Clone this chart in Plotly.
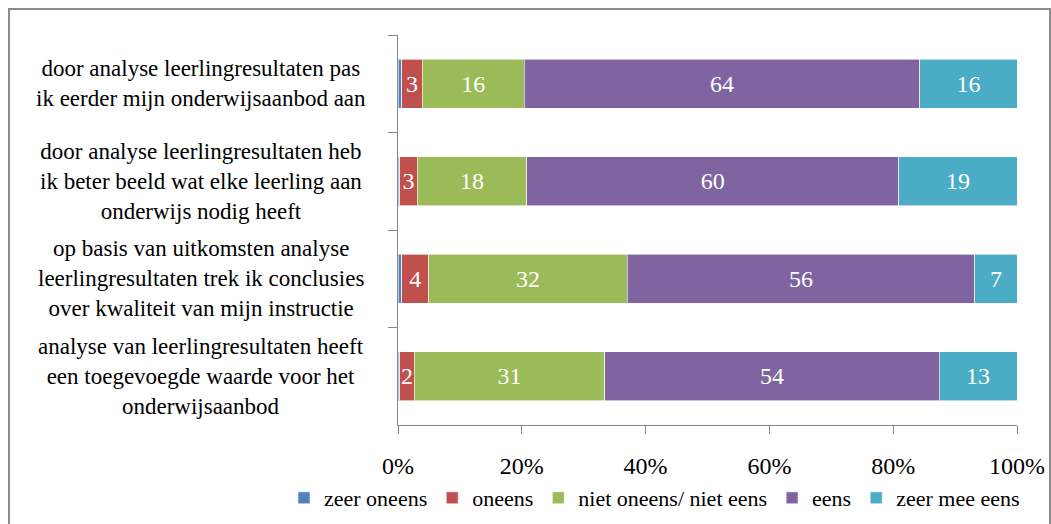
import plotly.graph_objects as go

categories = [
    "door analyse leerlingresultaten pas<br>ik eerder mijn onderwijsaanbod aan",
    "door analyse leerlingresultaten heb<br>ik beter beeld wat elke leerling aan<br>onderwijs nodig heeft",
    "op basis van uitkomsten analyse<br>leerlingresultaten trek ik conclusies<br>over kwaliteit van mijn instructie",
    "analyse van leerlingresultaten heeft<br>een toegevoegde waarde voor het<br>onderwijsaanbod",
]
cat_ids = ["c1", "c2", "c3", "c4"]

series_names = ["zeer oneens", "oneens", "niet oneens/ niet eens", "eens", "zeer mee eens"]
zeer_oneens = [0.6, 0.3, 0.6, 0.3]
oneens = [3.3, 2.8, 4.4, 2.3]
neutraal = [16.5, 17.7, 32.0, 30.8]
eens = [63.9, 60.1, 56.2, 54.0]
zeer_eens = [15.7, 19.1, 6.8, 12.6]
show_label = [False, True, True, True, True]

colors = ["#4F81BD", "#C0504D", "#9BBB59", "#8064A2", "#4BACC6"]
FONT = "Liberation Serif"

fig = go.Figure()
for name, vals, col, lab in zip(series_names, [zeer_oneens, oneens, neutraal, eens, zeer_eens], colors, show_label):
    fig.add_trace(go.Bar(
        y=cat_ids, x=vals, name=name, orientation="h",
        marker=dict(color=col, line=dict(color="rgba(255,255,255,0.6)", width=1)),
        text=[f"{v:.0f}" for v in vals] if lab else None,
        textposition="inside" if lab else "none",
        insidetextanchor="middle",
        textangle=0,
        textfont=dict(color="white", size=24, family=FONT),
        hoverinfo="x+name",
    ))

W, H = 1051, 524
L, R, T, B = 398, 1017, 35, 425
pw, ph = R - L, B - T

def px_x(p):
    return (p - L) / pw

def px_y(p):
    return (B - p) / ph

annotations = []
for cid, txt in zip(cat_ids, categories):
    annotations.append(dict(
        x=px_x(201), xref="paper", y=cid, yref="y",
        text=txt, showarrow=False, xanchor="center", yanchor="middle",
        align="center", font=dict(family=FONT, size=23, color="black"),
    ))

fig.update_layout(
    width=W, height=H,
    margin=dict(l=L, r=W - R, t=T, b=H - B, pad=0, autoexpand=False),
    barmode="stack", bargap=0.5,
    plot_bgcolor="white", paper_bgcolor="white",
    font=dict(family=FONT, size=22, color="black"),
    uniformtext=dict(minsize=24, mode="show"),
    showlegend=True,
    legend=dict(orientation="h", xref="paper", yref="paper",
                x=px_x(284), xanchor="left", y=px_y(498), yanchor="middle",
                font=dict(family=FONT, size=22, color="black"), itemwidth=30,
                traceorder="normal", bgcolor="rgba(0,0,0,0)"),
    annotations=annotations,
    shapes=[dict(type="rect", xref="paper", yref="paper",
                 x0=px_x(9), x1=px_x(1050), y0=px_y(560), y1=px_y(9),
                 line=dict(color="#8c8c8c", width=2), fillcolor="rgba(0,0,0,0)", layer="below")],
)
fig.update_xaxes(
    range=[0, 100], tickvals=[0, 20, 40, 60, 80, 100],
    ticktext=["0%", "20%", "40%", "60%", "80%", "100%"],
    showgrid=False, zeroline=False, showline=True, linecolor="#868686", linewidth=1,
    ticks="outside", ticklen=8, tickcolor="#868686", ticklabelstandoff=11,
    tickfont=dict(family=FONT, size=24, color="black"), automargin=False,
)
fig.update_yaxes(
    type="category", categoryorder="array", categoryarray=cat_ids, autorange="reversed",
    showticklabels=False, showgrid=False, zeroline=False, showline=True,
    linecolor="#868686", linewidth=1, ticks="outside", ticklen=9, tickcolor="#868686",
    tickson="boundaries", automargin=False,
)

fig.write_html("out.html", config={"displayModeBar": False},
               post_script="document.body.style.margin='0px';")
